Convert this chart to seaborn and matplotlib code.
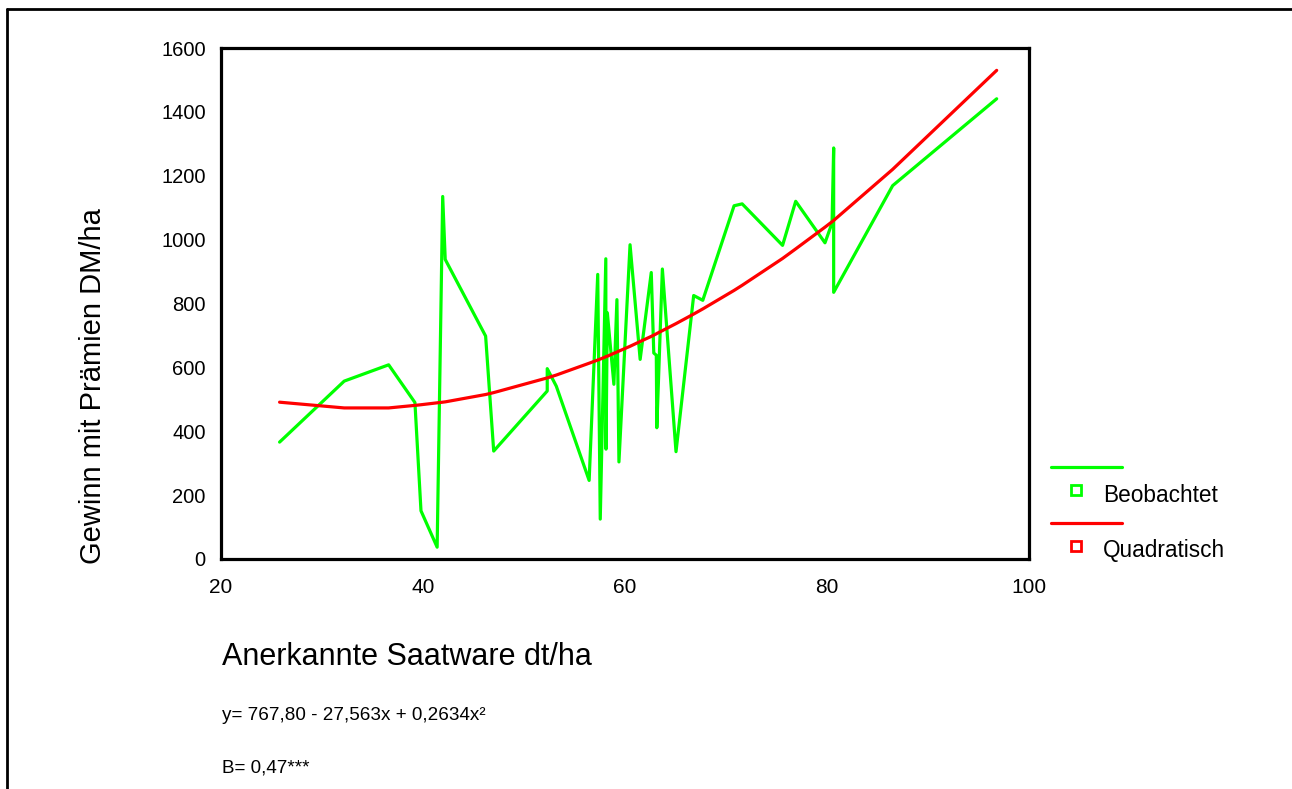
import matplotlib
matplotlib.use("Agg")
import matplotlib.pyplot as plt
from matplotlib.lines import Line2D
import seaborn as sns
import pandas as pd

# ---- data ----
x_obs = [25.8, 32.2, 36.6, 39.2, 39.8, 41.4, 41.95, 42.2, 46.2, 47.0,
         52.3, 52.3, 53.2, 56.45, 57.3, 57.55, 58.1, 58.12, 58.25, 58.9,
         59.2, 59.4, 60.5, 61.5, 62.6, 62.85, 63.1, 63.15, 63.7, 65.05,
         66.8, 67.7, 70.8, 71.6, 75.6, 76.9, 79.8, 80.5, 80.66, 80.66,
         86.5, 96.8]
y_obs = [366, 557, 608, 490, 151, 37, 1135, 938, 698, 338,
         526, 596, 541, 246, 891, 125, 940, 344, 771, 547,
         812, 304, 984, 625, 897, 645, 638, 411, 908, 336,
         825, 810, 1106, 1112, 982, 1120, 990, 1052, 1287, 835,
         1169, 1441]
y_quad = [491, 473, 473, 481, 483, 489, 491, 492, 515, 521,
          567, 567, 576, 613, 623, 626, 633, 634, 635, 644,
          648, 651, 666, 681, 697, 701, 705, 706, 715, 737,
          767, 783, 841, 857, 941, 971, 1039, 1056, 1060, 1060,
          1220, 1530]

x_ticks = [20, 40, 60, 80, 100]
y_ticks = [0, 200, 400, 600, 800, 1000, 1200, 1400, 1600]
x_label = "Anerkannte Saatware dt/ha"
y_label = "Gewinn mit Prämien DM/ha"
legend_labels = ["Beobachtet", "Quadratisch"]
equation = "y= 767,80 - 27,563x + 0,2634x²"
b_text = "B= 0,47***"

GREEN = "#00FF00"
RED = "#FF0000"

sns.set_style("white")
plt.rcParams["font.family"] = ["Liberation Sans", "DejaVu Sans"]

W, H = 1292, 789
fig = plt.figure(figsize=(W / 100, H / 100), dpi=100)
ax = fig.add_axes([221 / W, 1 - 559 / H, (1029 - 221) / W, (559 - 48) / H])

df = pd.DataFrame({"x": x_obs, "obs": y_obs, "quad": y_quad})
sns.lineplot(data=df, x="x", y="obs", ax=ax, color=GREEN, linewidth=2.3,
             sort=False, estimator=None)
sns.lineplot(data=df, x="x", y="quad", ax=ax, color=RED, linewidth=2.3,
             sort=False, estimator=None)

ax.set_xlim(x_ticks[0], x_ticks[-1])
ax.set_ylim(y_ticks[0], y_ticks[-1])
ax.set_xticks(x_ticks)
ax.set_yticks(y_ticks)
ax.set_xlabel("")
ax.set_ylabel("")
for s in ax.spines.values():
    s.set_visible(True)
    s.set_color("black")
    s.set_linewidth(2.3)
ax.tick_params(axis="both", which="major", direction="out", length=4,
               width=3, color="black", labelsize=15, labelcolor="black")
ax.tick_params(axis="y", labelsize=14.5, pad=7)
ax.tick_params(axis="x", pad=10)

# axis titles
fig.text(93 / W, 1 - 386 / H, y_label, rotation=90, ha="center", va="center",
         fontsize=21, color="black")
fig.text(222 / W, 1 - 657 / H, x_label, ha="left", va="center",
         fontsize=22, color="black")
fig.text(222 / W, 1 - 716 / H, equation, ha="left", va="center",
         fontsize=13.6, color="black")
fig.text(222 / W, 1 - 768 / H, b_text, ha="left", va="center",
         fontsize=13.6, color="black")

# legend (drawn manually to mimic the original layout)
for i, (lab, col) in enumerate(zip(legend_labels, [GREEN, RED])):
    ly = 467 + i * 56
    fig.add_artist(Line2D([1051 / W, 1122 / W], [1 - ly / H, 1 - ly / H],
                          color=col, linewidth=2.3, transform=fig.transFigure))
    fig.add_artist(Line2D([1076 / W], [1 - (ly + 23) / H], marker="s",
                          markersize=6.5, markerfacecolor="white",
                          markeredgecolor=col, markeredgewidth=2,
                          linestyle="none", transform=fig.transFigure))
    fig.text(1103 / W, 1 - (ly + 28) / H, lab, ha="left", va="center",
             fontsize=16.3, color="black")

# outer frame (top and left edges visible)
fig.add_artist(Line2D([7 / W, 1.0], [1 - 9 / H, 1 - 9 / H], color="black",
                      linewidth=2, transform=fig.transFigure))
fig.add_artist(Line2D([7 / W, 7 / W], [0, 1 - 9 / H], color="black",
                      linewidth=2, transform=fig.transFigure))

fig.savefig("out.png", dpi=100, facecolor="white")
